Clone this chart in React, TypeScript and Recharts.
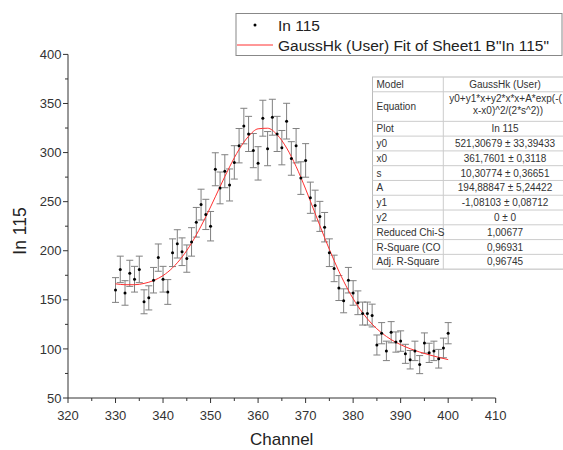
import React from 'react';
import { ComposedChart, Scatter, Line, XAxis, YAxis, ErrorBar } from 'recharts';

const channels = [
  330, 331, 332, 333, 334, 335, 336, 337, 338, 339,
  340, 341, 342, 343, 344, 345, 346, 347, 348, 349,
  350, 351, 352, 353, 354, 355, 356, 357, 358, 359,
  360, 361, 362, 363, 364, 365, 366, 367, 368, 369,
  370, 371, 372, 373, 374, 375, 376, 377, 378, 379,
  380, 381, 382, 383, 384, 385, 386, 387, 388, 389,
  390, 391, 392, 393, 394, 395, 396, 397, 398, 399, 400,
];

const counts = [
  160, 181, 157, 177, 171, 181, 148, 152, 170, 193,
  171, 158, 198, 207, 199, 192, 209, 229, 247, 237,
  225, 283, 264, 281, 267, 290, 307, 327, 319, 302,
  289, 335, 304, 336, 319, 305, 332, 294, 307, 274,
  292, 254, 246, 235, 224, 198, 182, 162, 149, 170,
  157, 147, 136, 136, 134, 104, 116, 98, 117, 107,
  108, 95, 89, 98, 84, 106, 96, 98, 90, 101, 116,
];

const errors = [
  12.6, 13.5, 12.5, 13.3, 13.1, 13.5, 12.2, 12.3, 13.0, 13.9,
  13.1, 12.6, 14.1, 14.4, 14.1, 13.9, 14.5, 15.1, 15.7, 15.4,
  15.0, 16.8, 16.2, 16.8, 16.3, 17.0, 17.5, 18.1, 17.9, 17.4,
  17.0, 18.3, 17.4, 18.3, 17.9, 17.5, 18.2, 17.1, 17.5, 16.6,
  17.1, 15.9, 15.7, 15.3, 15.0, 14.1, 13.5, 12.7, 12.2, 13.0,
  12.5, 12.1, 11.7, 11.7, 11.6, 10.2, 10.8, 9.9, 10.8, 10.3,
  10.4, 9.7, 9.4, 9.9, 9.2, 10.3, 9.8, 9.9, 9.5, 10.0, 10.8,
];

const fitChannels = [
  330, 332, 334, 336, 338, 340, 342, 344, 346, 348,
  350, 352, 354, 356, 358, 360, 362, 364, 366, 368,
  370, 372, 374, 376, 378, 380, 382, 384, 386, 388,
  390, 392, 394, 396, 398, 400,
];

const fitValues = [
  166.3, 165.4, 165.4, 166.7, 169.6, 174.7, 182.6, 193.6, 207.8, 225.1,
  244.6, 265.3, 285.4, 303.2, 316.6, 324.2, 324.8, 318.2, 304.7, 285.8,
  262.9, 238.1, 213.3, 189.9, 169.0, 151.2, 136.7, 125.2, 116.3, 109.5,
  104.3, 100.2, 96.8, 94.0, 91.4, 89.1,
];

const xTicks = [320, 325, 330, 335, 340, 345, 350, 355, 360, 365, 370, 375, 380, 385, 390, 395, 400, 405, 410];
const yTicks = [50, 75, 100, 125, 150, 175, 200, 225, 250, 275, 300, 325, 350, 375, 400];

const tableLabels = ['Model', 'Equation', 'Plot', 'y0', 'x0', 's', 'A', 'y1', 'y2', 'Reduced Chi-S', 'R-Square (CO', 'Adj. R-Square'];
const tableValues = [
  'GaussHk (User)',
  '',
  'In 115',
  '521,30679 ± 33,39433',
  '361,7601 ± 0,3118',
  '10,30774 ± 0,36651',
  '194,88847 ± 5,24422',
  '-1,08103 ± 0,08712',
  '0 ± 0',
  '1,00677',
  '0,96931',
  '0,96745',
];
const equationLines = ['y0+y1*x+y2*x*x+A*exp(-(', 'x-x0)^2/(2*s^2))'];

const seriesName = 'In 115';
const fitName = 'GaussHk (User) Fit of Sheet1 B"In 115"';
const xTitle = 'Channel';
const yTitle = 'In 115';

const FONT = '"Liberation Sans", Arial, sans-serif';
const W = 563;
const H = 450;

const points = channels.map((c, i) => ({ x: c, y: counts[i], err: errors[i] }));
const fitData = fitChannels.map((c, i) => ({ x: c, fit: fitValues[i] }));

const XTick = (props: any) => {
  const { x, y, payload } = props;
  const v = payload.value;
  const major = v % 10 === 0;
  return (
    <g>
      <line x1={x} x2={x} y1={y} y2={y + (major ? 5 : 3)} stroke="#333" strokeWidth={1} />
      {major && (
        <text x={x} y={y + 22} textAnchor="middle" fontSize={13} fill="#333" fontFamily={FONT}>
          {v}
        </text>
      )}
    </g>
  );
};

const YTick = (props: any) => {
  const { x, y, payload } = props;
  const v = payload.value;
  const major = v % 50 === 0;
  return (
    <g>
      <line x1={x - (major ? 5 : 3)} x2={x} y1={y} y2={y} stroke="#333" strokeWidth={1} />
      {major && (
        <text x={x - 6.5} y={y + 4.6} textAnchor="end" fontSize={13} fill="#333" fontFamily={FONT}>
          {v}
        </text>
      )}
    </g>
  );
};

const Dot = (p: any) => <circle cx={p.cx} cy={p.cy} r={1.5} fill="#000" />;

const Overlay = () => {
  const tLeft = 372.5;
  const tDiv = 443.3;
  const tRight = 567;
  const tTop = 77;
  const rowH = 14.78;
  const units = [1, 2, 1, 1, 1, 1, 1, 1, 1, 1, 1, 1];
  const rowTops: number[] = [];
  let acc = tTop;
  units.forEach((u) => {
    rowTops.push(acc);
    acc += u * rowH;
  });
  const tBottom = acc;
  return (
    <svg width={W} height={H} style={{ position: 'absolute', left: 0, top: 0, pointerEvents: 'none' }}>
      {/* legend */}
      <rect x={236} y={13.5} width={326} height={42} fill="#fff" stroke="#888" strokeWidth={1} />
      <circle cx={255} cy={25} r={1.5} fill="#000" />
      <text x={278} y={30.5} fontSize={15.5} fill="#222" fontFamily={FONT}>{seriesName}</text>
      <line x1={237} x2={273} y1={45} y2={45} stroke="#ff3030" strokeWidth={1} />
      <text x={278} y={50.5} fontSize={15.5} fill="#222" fontFamily={FONT}>{fitName}</text>

      {/* table */}
      <rect x={tLeft} y={tTop} width={tRight - tLeft} height={tBottom - tTop} fill="#fff" stroke="#bbb" strokeWidth={1} />
      {rowTops.slice(1).map((ry, i) => (
        <line key={'r' + i} x1={tLeft} x2={tRight} y1={ry} y2={ry} stroke="#ccc" strokeWidth={1} />
      ))}
      <line x1={tDiv} x2={tDiv} y1={tTop} y2={tBottom} stroke="#ccc" strokeWidth={1} />
      {tableLabels.map((lab, i) => {
        const h = units[i] * rowH;
        const cy = rowTops[i] + h / 2;
        return (
          <g key={'t' + i}>
            <text x={376.5} y={cy + 3.6} fontSize={10} fill="#333" fontFamily={FONT}>{lab}</text>
            {i === 1 ? (
              <>
                <text x={449.3} y={rowTops[i] + 10.5} fontSize={10} fill="#333" fontFamily={FONT}>{equationLines[0]}</text>
                <text x={508} y={rowTops[i] + 22} fontSize={10} fill="#333" textAnchor="middle" fontFamily={FONT}>{equationLines[1]}</text>
              </>
            ) : (
              <text x={505} y={cy + 3.6} fontSize={10} fill="#333" textAnchor="middle" fontFamily={FONT}>{tableValues[i]}</text>
            )}
          </g>
        );
      })}

      {/* axis titles */}
      <text x={281.7} y={445} fontSize={17} fill="#222" textAnchor="middle" fontFamily={FONT}>{xTitle}</text>
      <text transform="translate(25.7,231) rotate(-90)" fontSize={17.5} fill="#222" textAnchor="middle" fontFamily={FONT}>{yTitle}</text>
    </svg>
  );
};

export default function App() {
  return (
    <div style={{ position: 'absolute', left: 0, top: 0, width: W, height: H, background: '#fff', overflow: 'hidden' }}>
      <ComposedChart width={W} height={H} margin={{ top: 54.4, right: 67.3, left: 0, bottom: 0 }}>
        <XAxis
          dataKey="x"
          type="number"
          domain={[320, 410]}
          ticks={xTicks}
          interval={0}
          height={52}
          tickSize={0}
          tickMargin={0}
          tickLine={false}
          tick={<XTick />}
          axisLine={{ stroke: '#333', strokeWidth: 1 }}
          allowDataOverflow
        />
        <YAxis
          type="number"
          domain={[50, 400]}
          ticks={yTicks}
          interval={0}
          width={68}
          tickSize={0}
          tickMargin={0}
          tickLine={false}
          tick={<YTick />}
          axisLine={{ stroke: '#333', strokeWidth: 1 }}
          allowDataOverflow
        />
        <Scatter data={points} dataKey="y" shape={<Dot />} isAnimationActive={false}>
          <ErrorBar dataKey="err" direction="y" width={3.5} stroke="#808080" strokeWidth={1} isAnimationActive={false} />
        </Scatter>
        <Line
          data={fitData}
          dataKey="fit"
          type="monotone"
          stroke="#ff3030"
          strokeWidth={1}
          dot={false}
          activeDot={false}
          isAnimationActive={false}
        />
      </ComposedChart>
      <Overlay />
    </div>
  );
}
